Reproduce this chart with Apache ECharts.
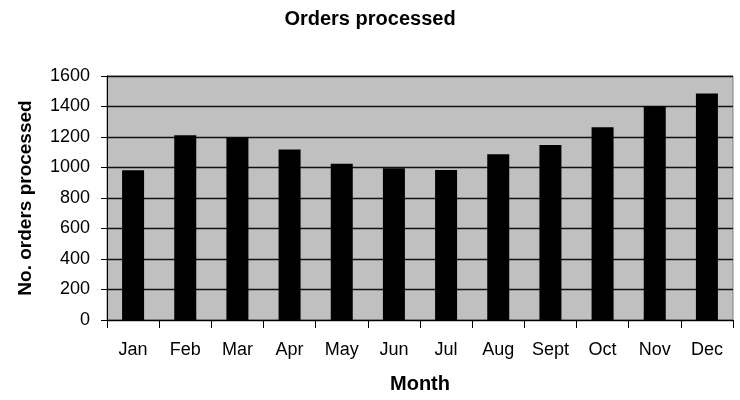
<!DOCTYPE html>
<html><head><meta charset="utf-8">
<script src="https://cdn.jsdelivr.net/npm/echarts@6/dist/echarts.min.js"></script>
<style>html,body{margin:0;padding:0;background:#fff}#c{width:740px;height:400px}</style>
</head><body><div id="c"></div>
<script>
const months = ["Jan","Feb","Mar","Apr","May","Jun","Jul","Aug","Sept","Oct","Nov","Dec"];
const orders = [982, 1211, 1195, 1118, 1024, 995, 984, 1087, 1148, 1264, 1403, 1485];
const yTicks = [0, 200, 400, 600, 800, 1000, 1200, 1400, 1600];

const chart = echarts.init(document.getElementById('c'));
const font = '"Liberation Sans", Arial, sans-serif';
chart.setOption({
  animation: false,
  textStyle: {fontFamily: font},
  title: {text: 'Orders processed', left: 'center', top: 4,
    textStyle: {fontFamily: font, fontSize: 20, fontWeight: 'bold', color: '#000'}},
  grid: {left: 107, right: 7, top: 76, bottom: 80, show: true, outerBoundsMode: 'none', containLabel: false,
    backgroundColor: '#c0c0c0', borderColor: '#808080', borderWidth: 1},
  xAxis: {type: 'category', data: months, boundaryGap: true,
    name: 'Month', nameLocation: 'middle', nameGap: 54,
    nameTextStyle: {fontFamily: font, fontSize: 20, fontWeight: 'bold', color: '#000'},
    axisLine: {lineStyle: {color: '#000', width: 1}},
    axisTick: {show: true, length: 8, alignWithLabel: false, lineStyle: {color: '#000'}},
    axisLabel: {fontFamily: font, fontSize: 18, color: '#000', margin: 21, interval: 0}},
  yAxis: {type: 'value', min: yTicks[0], max: yTicks[yTicks.length-1], interval: 200,
    name: 'No. orders processed', nameLocation: 'middle', nameGap: 72,
    nameTextStyle: {fontFamily: font, fontSize: 19, fontWeight: 'bold', color: '#000'},
    axisLine: {show: true, lineStyle: {color: '#000', width: 1}},
    axisTick: {show: true, length: 6, lineStyle: {color: '#000'}},
    axisLabel: {fontFamily: font, fontSize: 18, color: '#000', margin: 17,
      formatter: v => String(v)},
    splitLine: {show: true, lineStyle: {color: '#111', width: 1.3}}},
  series: [{type: 'bar', data: orders, barWidth: 22,
    itemStyle: {color: '#000'}}]
});
</script></body></html>
